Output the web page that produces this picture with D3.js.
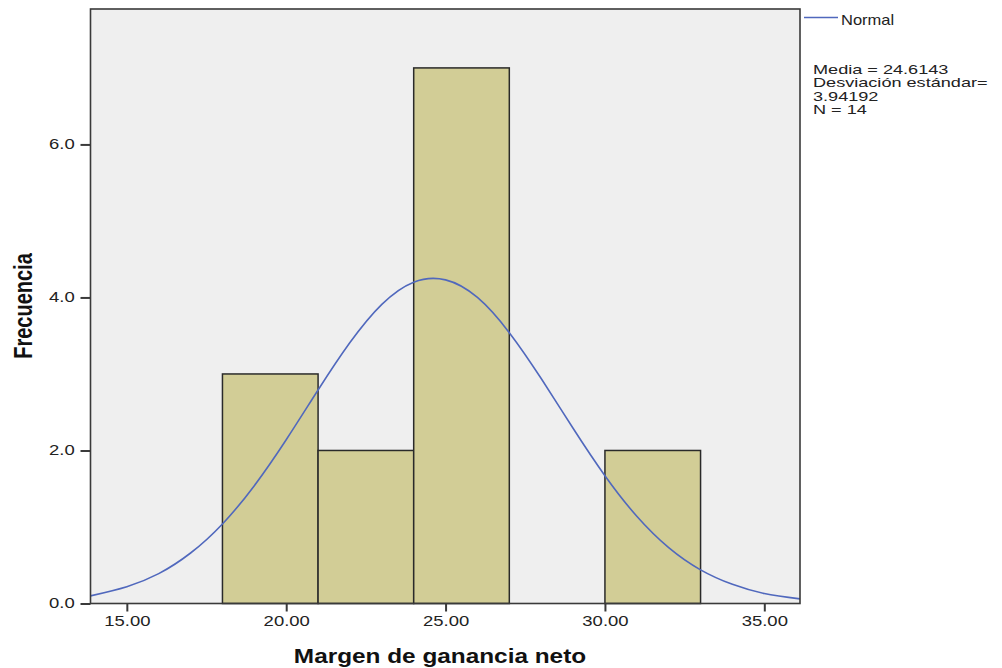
<!DOCTYPE html>
<html>
<head>
<meta charset="utf-8">
<script src="https://cdn.jsdelivr.net/npm/d3@7/dist/d3.min.js"></script>
<style>
  html, body { margin: 0; padding: 0; background: #fff; }
  svg { display: block; font-family: "Liberation Sans", Arial, sans-serif; }
</style>
</head>
<body>
<svg id="chart" width="1002" height="668"></svg>
<script>
// Histogram bins (lower edge, upper edge, frequency)
const binLo = [18, 21, 24, 27, 30];
const binHi = [21, 24, 27, 30, 33];
const counts = [3, 2, 7, 0, 2];

// Normal curve (x, frequency)
const curveX = [13.86, 15, 16, 17, 18, 19, 20, 21, 22, 23, 24, 25, 26, 27, 28, 29, 30, 31, 32, 33, 34, 35, 36.12];
const curveY = [0.10, 0.22, 0.39, 0.66, 1.04, 1.54, 2.14, 2.79, 3.41, 3.91, 4.20, 4.23, 4.00, 3.54, 2.94, 2.29, 1.67, 1.14, 0.73, 0.44, 0.25, 0.13, 0.06];

const xTicks = [15, 20, 25, 30, 35];
const yTicks = [0, 2, 4, 6];
const statsLines = ['Media = 24.6143', 'Desviación estándar=', '3.94192', 'N = 14'];

const svg = d3.select('#chart');
const x = d3.scaleLinear().domain([13.86, 36.12]).range([90.5, 800]);
const y = d3.scaleLinear().domain([0, 7.77]).range([603.5, 9]);

// plot background
svg.append('rect')
  .attr('x', x.range()[0]).attr('y', y.range()[1])
  .attr('width', x.range()[1] - x.range()[0])
  .attr('height', y.range()[0] - y.range()[1])
  .attr('fill', '#efefef');

// bars
svg.selectAll('rect.bar').data(counts.map((c, i) => ({ lo: binLo[i], hi: binHi[i], c })).filter((d) => d.c > 0))
  .enter().append('rect').attr('class', 'bar')
  .attr('x', (d) => x(d.lo)).attr('width', (d) => x(d.hi) - x(d.lo))
  .attr('y', (d) => y(d.c)).attr('height', (d) => y(0) - y(d.c))
  .attr('fill', '#d2cd96').attr('stroke', '#2a2a2a').attr('stroke-width', 1.5);

// normal curve
const line = d3.line().x((d) => x(d[0])).y((d) => y(d[1])).curve(d3.curveNatural);
svg.append('path').datum(curveX.map((v, i) => [v, curveY[i]]))
  .attr('d', line).attr('fill', 'none').attr('stroke', '#5068bd').attr('stroke-width', 1.6);

// frame
svg.append('rect')
  .attr('x', x.range()[0]).attr('y', y.range()[1])
  .attr('width', x.range()[1] - x.range()[0])
  .attr('height', y.range()[0] - y.range()[1])
  .attr('fill', 'none').attr('stroke', '#3a3a3a').attr('stroke-width', 1.6);

// axes
const xAxis = svg.append('g').attr('transform', `translate(0,${y(0)})`)
  .call(d3.axisBottom(x).tickValues(xTicks).tickFormat(d3.format('.2f')).tickSize(8).tickPadding(5));
const yAxis = svg.append('g').attr('transform', `translate(${x.range()[0]},0)`)
  .call(d3.axisLeft(y).tickValues(yTicks).tickFormat(d3.format('.1f')).tickSize(10).tickPadding(2));
[xAxis, yAxis].forEach((g) => {
  g.select('.domain').remove();
  g.selectAll('.tick line').attr('stroke', '#3a3a3a').attr('stroke-width', 2);
  g.selectAll('.tick text').attr('fill', '#222').style('font-size', '14px')
    .attr('transform', 'scale(1.32,1)');
});

// axis titles
svg.append('text')
  .attr('transform', 'translate(440,663) scale(1.16,1)')
  .attr('text-anchor', 'middle').style('font-size', '21px').style('font-weight', 'bold')
  .attr('fill', '#111').text('Margen de ganancia neto');
svg.append('text')
  .attr('transform', 'translate(32,306) scale(1.3,1) rotate(-90)')
  .attr('text-anchor', 'middle').style('font-size', '20px').style('font-weight', 'bold')
  .attr('fill', '#111').text('Frecuencia');

// legend
svg.append('line').attr('x1', 804).attr('x2', 838).attr('y1', 17.5).attr('y2', 17.5)
  .attr('stroke', '#5068bd').attr('stroke-width', 1.6);
svg.append('text').attr('transform', 'translate(841,24.5) scale(1.18,1)')
  .style('font-size', '14px').attr('fill', '#222').text('Normal');
statsLines.forEach((t, i) => {
  svg.append('text').attr('transform', `translate(813,${73.5 + i * 13.6}) scale(1.45,1)`)
    .style('font-size', '12.5px').attr('fill', '#222').text(t);
});
</script>
</body>
</html>
